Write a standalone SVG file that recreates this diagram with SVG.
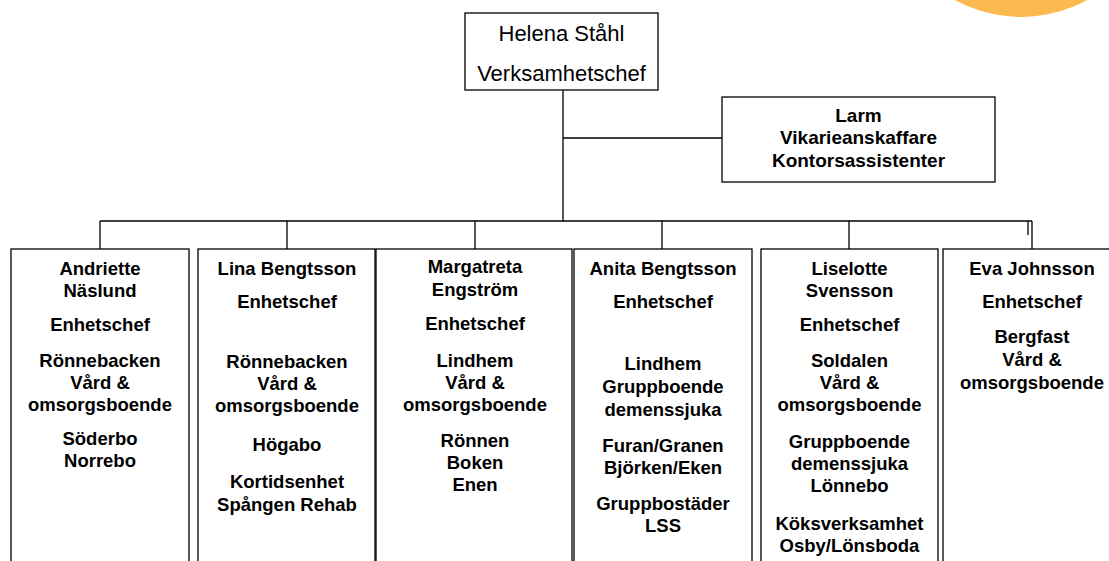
<svg xmlns="http://www.w3.org/2000/svg" width="1109" height="561" viewBox="0 0 1109 561">
<style>
.box{fill:#fff;stroke:#000;stroke-width:1.3}
.ln{stroke:#000;stroke-width:1.3;fill:none}
.t{font-family:"Liberation Sans",Arial,sans-serif;font-size:18.5px;font-weight:bold;text-anchor:middle;fill:#000}
.top{font-family:"Liberation Sans",Arial,sans-serif;font-size:22px;text-anchor:middle;fill:#000}
.lm{font-family:"Liberation Sans",Arial,sans-serif;font-size:19px;font-weight:bold;text-anchor:middle;fill:#000}
</style>
<rect width="1109" height="561" fill="#fff"/>
<circle cx="1021" cy="-120" r="137" fill="#FDB94F"/>
<g id="connectors">
<line class="ln" x1="563" y1="90" x2="563" y2="221"/>
<line class="ln" x1="563" y1="138" x2="722" y2="138"/>
<line class="ln" x1="100" y1="221" x2="1032" y2="221"/>
<line class="ln" x1="100" y1="221" x2="100" y2="249"/>
<line class="ln" x1="287" y1="221" x2="287" y2="249"/>
<line class="ln" x1="475" y1="221" x2="475" y2="249"/>
<line class="ln" x1="662" y1="221" x2="662" y2="249"/>
<line class="ln" x1="849" y1="221" x2="849" y2="249"/>
<line class="ln" x1="1032" y1="221" x2="1032" y2="249"/>
<line class="ln" x1="1028" y1="221" x2="1028" y2="235"/>
</g>
<g id="n-chef">
<rect class="box" x="465" y="13" width="193" height="77"/>
<text class="top" x="561.5" y="41">Helena Ståhl</text>
<text class="top" x="561.5" y="81">Verksamhetschef</text>
</g>
<g id="n-larm">
<rect class="box" x="722" y="97" width="273" height="85"/>
<text class="lm" x="858.5" y="122">Larm</text>
<text class="lm" x="858.5" y="144">Vikarieanskaffare</text>
<text class="lm" x="858.5" y="167">Kontorsassistenter</text>
</g>
<g id="n-andriette">
<rect class="box" x="11" y="249" width="178" height="330"/>
<text class="t" x="100" y="275">Andriette</text>
<text class="t" x="100" y="297">Näslund</text>
<text class="t" x="100" y="331">Enhetschef</text>
<text class="t" x="100" y="367">Rönnebacken</text>
<text class="t" x="100" y="389">Vård &amp;</text>
<text class="t" x="100" y="411">omsorgsboende</text>
<text class="t" x="100" y="445">Söderbo</text>
<text class="t" x="100" y="467">Norrebo</text>
</g>
<g id="n-lina">
<rect class="box" x="198" y="249" width="177" height="330"/>
<text class="t" x="287" y="275">Lina Bengtsson</text>
<text class="t" x="287" y="308">Enhetschef</text>
<text class="t" x="287" y="368">Rönnebacken</text>
<text class="t" x="287" y="390">Vård &amp;</text>
<text class="t" x="287" y="412">omsorgsboende</text>
<text class="t" x="287" y="451">Högabo</text>
<text class="t" x="287" y="488">Kortidsenhet</text>
<text class="t" x="287" y="511">Spången Rehab</text>
</g>
<g id="n-margatreta">
<rect class="box" x="376" y="249" width="196" height="330"/>
<text class="t" x="475" y="273">Margatreta</text>
<text class="t" x="475" y="296">Engström</text>
<text class="t" x="475" y="330">Enhetschef</text>
<text class="t" x="475" y="367">Lindhem</text>
<text class="t" x="475" y="389">Vård &amp;</text>
<text class="t" x="475" y="411">omsorgsboende</text>
<text class="t" x="475" y="447">Rönnen</text>
<text class="t" x="475" y="469">Boken</text>
<text class="t" x="475" y="491">Enen</text>
</g>
<g id="n-anita">
<rect class="box" x="574" y="249" width="178" height="330"/>
<text class="t" x="663" y="275">Anita Bengtsson</text>
<text class="t" x="663" y="308">Enhetschef</text>
<text class="t" x="663" y="370">Lindhem</text>
<text class="t" x="663" y="393">Gruppboende</text>
<text class="t" x="663" y="416">demenssjuka</text>
<text class="t" x="663" y="452">Furan/Granen</text>
<text class="t" x="663" y="474">Björken/Eken</text>
<text class="t" x="663" y="510">Gruppbostäder</text>
<text class="t" x="663" y="532">LSS</text>
</g>
<g id="n-liselotte">
<rect class="box" x="761" y="249" width="177" height="330"/>
<text class="t" x="849.5" y="275">Liselotte</text>
<text class="t" x="849.5" y="297">Svensson</text>
<text class="t" x="849.5" y="331">Enhetschef</text>
<text class="t" x="849.5" y="367">Soldalen</text>
<text class="t" x="849.5" y="389">Vård &amp;</text>
<text class="t" x="849.5" y="411">omsorgsboende</text>
<text class="t" x="849.5" y="448">Gruppboende</text>
<text class="t" x="849.5" y="470">demenssjuka</text>
<text class="t" x="849.5" y="492">Lönnebo</text>
<text class="t" x="849.5" y="530">Köksverksamhet</text>
<text class="t" x="849.5" y="552">Osby/Lönsboda</text>
</g>
<g id="n-eva">
<rect class="box" x="943" y="249" width="178" height="330"/>
<text class="t" x="1032" y="275">Eva Johnsson</text>
<text class="t" x="1032" y="308">Enhetschef</text>
<text class="t" x="1032" y="343">Bergfast</text>
<text class="t" x="1032" y="366">Vård &amp;</text>
<text class="t" x="1032" y="389">omsorgsboende</text>
</g>
</svg>
